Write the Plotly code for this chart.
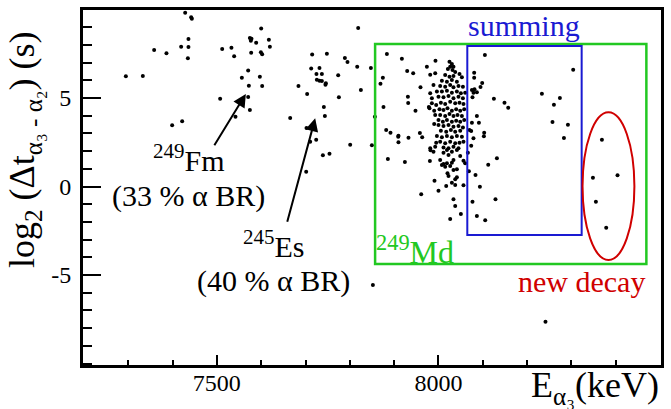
import plotly.graph_objects as go

# alpha_3 energy (keV) and log2(dt) (s)
energy_keV = [
    7428.5, 7442.0, 7443.6, 7435.9, 7358.5, 7386.3, 7419.4, 7435.9, 7434.6, 7512.0,
    7532.9, 7294.7, 7333.0, 7507.4, 7399.1, 7421.7,
    7600.0, 7574.5, 7578.1, 7576.7, 7588.7, 7617.3, 7619.6, 7539.0, 7577.4, 7599.3,
    7602.2, 7570.6, 7556.4, 7597.0, 7572.2, 7602.2, 7570.6, 7574.5, 7542.0,
    7818.8, 7715.0, 7748.2, 7788.8, 7794.7, 7816.6, 7847.5, 7712.8, 7731.5, 7724.7,
    7736.9, 7725.6, 7731.5, 7736.9, 7745.9, 7745.0, 7773.7, 7684.1, 7703.7, 7775.3,
    7824.9, 7741.4, 7743.7, 7665.4, 7856.5, 7702.2, 7724.1,
    7710.5, 7701.5, 7739.2, 7754.1, 7800.8, 7849.7, 7852.0,
    7883.6, 7917.4, 7973.8, 7929.4, 7942.9, 7981.3, 7874.5, 7869.1, 7959.4, 7931.0,
    7931.6, 7948.1, 7875.9, 7978.3, 7882.0, 7891.7, 7909.7, 7909.1, 7932.3, 7909.7,
    7958.0, 7963.2, 7982.0, 7980.6, 7885.8, 7924.2, 7961.0,
    8104.7, 8303.9, 8080.5, 8080.5, 8098.6, 8094.8, 8075.4, 8081.2, 8079.0, 8086.6,
    8076.7, 8125.0, 8148.9, 8157.3, 8233.3, 8273.9, 8260.4, 8257.2, 8292.0, 8283.0,
    8086.6, 8075.4, 8091.2, 8070.0, 8073.8, 8103.1, 8102.4, 8073.8, 8066.3, 8131.8,
    8112.2, 8068.6, 8083.5, 8093.4, 8076.7, 8128.6, 8086.6, 8105.4,
    8368.7, 8348.4, 8403.9, 8355.1, 8378.4, 8241.4,
    # dense 249Md group
    7993.2, 8024.8, 8030.2, 8026.4, 8033.8, 8021.2, 8031.6, 8037.7, 7992.6, 8015.1,
    8024.8, 8033.8, 8047.4, 8052.8, 8007.7, 8019.0, 8030.2, 8041.5, 7988.7, 8003.8,
    8015.1, 8026.4, 8033.8, 8045.1, 8055.1, 7981.3, 7996.4, 8007.7, 8019.0, 8030.2,
    8041.5, 8050.5, 8060.2, 7985.1, 8000.0, 8011.3, 8022.6, 8033.8, 8045.1, 8055.1,
    7985.1, 7994.8, 8005.4, 8015.1, 8026.4, 8037.7, 8047.4, 8056.4, 7979.7, 7990.3,
    8002.3, 8011.3, 8020.3, 8030.2, 8039.9, 8049.0, 8058.0, 7992.6, 8003.8, 8015.1,
    8024.8, 8033.8, 8042.9, 8052.8, 8000.0, 8009.9, 8019.0, 8030.2, 8039.9, 8049.0,
    8058.0, 7990.3, 8000.0, 8011.3, 8022.6, 8033.8, 8045.1, 8055.1, 8005.4, 8017.4,
    8028.0, 8037.7, 8049.0, 7996.4, 8007.7, 8019.0, 8030.2, 8041.5, 8052.8, 8078.9,
    7994.8, 8003.8, 8015.1, 8026.4, 8037.7, 8047.4, 7981.3, 7992.6, 8011.3, 8022.6,
    8033.8, 8045.1, 8056.4, 7988.7, 8011.3, 8019.0, 8030.2, 8022.6, 8041.5, 8003.8,
    8011.3, 8019.0, 8015.1, 8007.7, 8030.2, 8033.8, 8026.4, 8049.0, 8056.4, 8060.2,
    8033.8, 8041.5, 8020.3, 8022.6, 8041.5, 8037.7, 7991.0, 8000.0, 8017.4, 8030.2,
    8037.7, 8056.4, 8033.8, 8037.7, 8050.5, 8026.4,
]

log2_dt = [
    9.82, 9.56, 9.48, 8.33, 7.71, 7.53, 7.90, 7.88, 7.24, 7.77,
    7.84, 6.23, 6.24, 4.96, 3.46, 3.68,
    8.92, 8.39, 8.35, 8.24, 8.12, 8.29, 7.90, 7.36, 7.56, 7.58,
    7.47, 6.56, 6.15, 6.20, 5.69, 5.68, 5.06, 4.32, 3.94,
    8.95, 7.45, 7.50, 7.26, 7.03, 6.77, 6.69, 6.66, 6.69, 6.36,
    6.36, 6.03, 5.98, 5.96, 5.83, 5.75, 6.28, 5.68, 5.23, 5.04,
    5.45, 4.49, 3.98, 3.87, 3.94, 3.31, 2.64,
    2.53, 0.84, 1.76, 1.85, 2.36, 2.33, -5.56,
    7.49, 7.22, 6.77, 6.53, 6.40, 6.32, 6.15, 5.81, 5.60, 5.07,
    4.72, 4.28, 4.49, 4.49, 3.19, 3.04, 2.87, 2.81, 2.76, 2.50,
    3.02, 2.78, 2.05, 1.44, 1.55, 1.38, -0.44,
    7.43, 6.60, 6.43, 6.15, 5.85, 5.62, 5.45, 5.49, 5.30, 5.32,
    5.04, 4.96, 4.73, 4.45, 5.24, 5.00, 4.62, 3.64, 3.49, 2.74,
    3.98, 3.60, 3.60, 3.19, 3.14, 3.04, 2.84, 2.31, 1.91, 1.59,
    1.23, 0.86, 0.65, -0.01, -0.86, -0.72, -1.67, -1.91,
    2.64, 0.50, 0.63, -0.86, -2.33, -7.64,
    # dense 249Md group
    7.11, 7.05, 6.92, 6.77, 6.77, 6.64, 6.58, 6.47, 6.40, 6.30,
    6.20, 6.24, 6.36, 6.17, 5.98, 5.92, 6.02, 5.92, 5.73, 5.68,
    5.64, 5.73, 5.60, 5.68, 5.64, 5.27, 5.36, 5.36, 5.41, 5.30,
    5.36, 5.27, 5.30, 4.98, 5.07, 5.04, 5.11, 4.98, 5.07, 4.98,
    4.70, 4.60, 4.73, 4.66, 4.79, 4.70, 4.73, 4.66, 4.42, 4.28,
    4.36, 4.32, 4.42, 4.28, 4.36, 4.28, 4.36, 4.04, 4.04, 3.98,
    4.10, 3.98, 4.04, 3.98, 3.76, 3.66, 3.76, 3.66, 3.72, 3.66,
    3.76, 3.53, 3.47, 3.42, 3.47, 3.38, 3.42, 3.34, 3.15, 3.10,
    3.19, 3.10, 3.15, 2.85, 2.78, 2.85, 2.78, 2.85, 2.81, 2.72,
    2.47, 2.53, 2.44, 2.53, 2.44, 2.47, 2.16, 2.25, 2.21, 2.16,
    2.25, 2.16, 2.53, 1.97, 1.91, 2.06, 1.97, 1.78, 2.06, 1.50,
    1.27, 1.31, 1.12, 1.21, 1.34, 1.50, 1.16, 1.72, 1.46, 1.31,
    0.93, 0.97, 0.75, 0.59, 0.52, 0.41, 0.33, -0.24, 0.03, 0.21,
    0.08, 0.07, -0.72, -1.10, -1.55, -1.84,
]

x_tick_vals = [7500, 8000]
x_tick_text = ["7500", "8000"]
y_tick_vals = [-5, 0, 5]
y_tick_text = ["-5", "0", "5"]

SERIF = "Liberation Serif, Times New Roman, serif"
GREEN = "#22c822"
BLUE = "#1a1ad2"
RED = "#d00000"

fig = go.Figure()
fig.add_trace(go.Scatter(
    x=energy_keV, y=log2_dt, mode="markers",
    marker=dict(color="black", size=4, line=dict(width=0)),
    hoverinfo="x+y", showlegend=False,
))

fig.update_layout(
    width=671, height=409,
    margin=dict(l=83, r=10, t=10, b=44, autoexpand=False),
    paper_bgcolor="white", plot_bgcolor="white",
    font=dict(family=SERIF, color="black", size=24),
    xaxis=dict(
        range=[7198, 8502], showgrid=False, zeroline=False, automargin=False,
        showline=True, linecolor="black", linewidth=3, mirror=True,
        ticks="inside", ticklen=10, tickwidth=1.5, tickcolor="black",
        tickvals=x_tick_vals, ticktext=x_tick_text,
        tickfont=dict(family=SERIF, size=24),
        ticklabelstandoff=-6,
        minor=dict(ticks="inside", ticklen=5, tickwidth=1.5, tickcolor="black",
                   dtick=100, tick0=7200),
    ),
    yaxis=dict(
        range=[-10.08, 9.97], showgrid=False, zeroline=False, automargin=False,
        showline=True, linecolor="black", linewidth=3, mirror=True,
        ticks="inside", ticklen=18, tickwidth=1.5, tickcolor="black",
        tickvals=y_tick_vals, ticktext=y_tick_text,
        tickfont=dict(family=SERIF, size=24),
        ticklabelstandoff=4,
        minor=dict(ticks="inside", ticklen=9, tickwidth=1.5, tickcolor="black",
                   dtick=1, tick0=0),
    ),
)

# regions
fig.add_shape(type="rect", xref="x", yref="y", x0=7857, x1=8469, y0=-4.38, y1=8.05,
              line=dict(color=GREEN, width=2.5))
fig.add_shape(type="rect", xref="x", yref="y", x0=8065, x1=8323, y0=-2.74, y1=7.94,
              line=dict(color=BLUE, width=2))
fig.add_shape(type="circle", xref="x", yref="y", x0=8325, x1=8442, y0=-4.15, y1=4.19,
              line=dict(color=RED, width=2))

# labels
def label(text, x, y, color="black", size=30):
    fig.add_annotation(text=text, x=x, y=y, xref="x", yref="y", showarrow=False,
                       font=dict(family=SERIF, size=size, color=color),
                       xanchor="center", yanchor="middle")

label("summing", 8193, 9.07, BLUE, 30)
label("<sup>249</sup>Md", 7947, -3.6, GREEN, 32)
label("new decay", 8323, -5.34, RED, 30)
label("<sup>249</sup>Fm", 7437, 1.63)
label("(33 % α BR)", 7436, -0.54)
label("<sup>245</sup>Es", 7628, -3.27)
label("(40 % α BR)", 7628, -5.34)

# arrows
for (hx, hy, tx, ty) in [(7565.4, 5.23, 7492.3, 2.25), (7721.8, 3.85, 7657.9, -2.08)]:
    fig.add_annotation(x=hx, y=hy, ax=tx, ay=ty, xref="x", yref="y", axref="x", ayref="y",
                       text="", showarrow=True, arrowhead=2, arrowsize=1.3,
                       arrowwidth=2, arrowcolor="black", standoff=0)

# axis titles
fig.add_annotation(text="E<sub>α₃</sub>(keV)", xref="paper", yref="paper",
                   x=1.0, y=-0.062, xanchor="right", yanchor="middle", showarrow=False,
                   font=dict(family=SERIF, size=36, color="black"))
fig.add_annotation(text="log<sub>2</sub> (Δt<sub>α₃ - α₂</sub>) (s)", xref="paper", yref="paper",
                   x=-0.1, y=0.606, xanchor="center", yanchor="middle", showarrow=False,
                   textangle=-90, font=dict(family=SERIF, size=36, color="black"))

fig.write_html("out.html")
